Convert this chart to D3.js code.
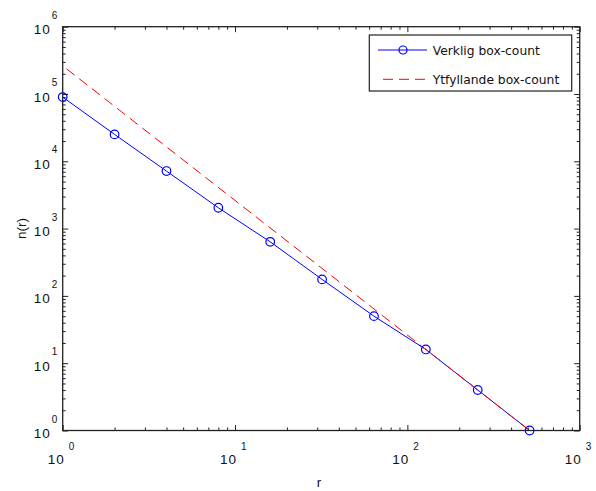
<!DOCTYPE html>
<html>
<head>
<meta charset="utf-8">
<script src="https://cdn.jsdelivr.net/npm/d3@7"></script>
<style>
  body { margin: 0; background: #fff; }
  svg { display: block; }
  text { font-family: "Liberation Sans", Arial, sans-serif; fill: #111; }
</style>
</head>
<body>
<svg id="chart" width="596" height="491"></svg>
<script>
// Box sizes r and the measured box counts n(r)
const rValues = [1, 2, 4, 8, 16, 32, 64, 128, 256, 512];
const countValues = [90000, 25100, 7160, 2040, 636, 176, 50, 16, 4, 1];

// Space-filling reference line end points (slope -2 in log-log)
const fillR = [1, 512];
const fillCount = [262144, 1];

// Decade exponents labelled on each axis
const xTickExps = [0, 1, 2, 3];
const yTickExps = [0, 1, 2, 3, 4, 5, 6];

const seriesNames = ["Verklig box-count", "Ytfyllande box-count"];
const xLabel = "r";
const yLabel = "n(r)";

const svg = d3.select("#chart");
const plot = { left: 62.7, right: 579.7, top: 26.7, bottom: 430.5 };

const x = d3.scaleLog().domain([1, 1000]).range([plot.left, plot.right]);
const y = d3.scaleLog().domain([1, 1e6]).range([plot.bottom, plot.top]);

const axisColor = "#222";
const majorLen = 5.5, minorLen = 3;

// tick positions: every 1..9 multiple of a decade, split into majors and minors
const xAll = x.ticks();
const yAll = y.ticks();
const isMajor = v => Math.abs(Math.log10(v) - Math.round(Math.log10(v))) < 1e-9;
const xMajor = xAll.filter(isMajor), xMinor = xAll.filter(v => !isMajor(v));
const yMajor = yAll.filter(isMajor), yMinor = yAll.filter(v => !isMajor(v));

function styleAxis(g) {
  g.select(".domain").remove();
  g.selectAll(".tick line").attr("stroke", axisColor).attr("stroke-width", 1);
  g.selectAll(".tick text").remove();
}

const axes = svg.append("g");
// inward ticks on all four sides
[[xMajor, majorLen], [xMinor, minorLen]].forEach(([vals, len]) => {
  axes.append("g").attr("transform", `translate(0,${plot.bottom})`)
    .call(d3.axisBottom(x).tickValues(vals).tickSize(-len).tickSizeOuter(0)).call(styleAxis);
  axes.append("g").attr("transform", `translate(0,${plot.top})`)
    .call(d3.axisTop(x).tickValues(vals).tickSize(-len).tickSizeOuter(0)).call(styleAxis);
});
[[yMajor, majorLen], [yMinor, minorLen]].forEach(([vals, len]) => {
  axes.append("g").attr("transform", `translate(${plot.left},0)`)
    .call(d3.axisLeft(y).tickValues(vals).tickSize(-len).tickSizeOuter(0)).call(styleAxis);
  axes.append("g").attr("transform", `translate(${plot.right},0)`)
    .call(d3.axisRight(y).tickValues(vals).tickSize(-len).tickSizeOuter(0)).call(styleAxis);
});

// plot frame
svg.append("rect")
  .attr("x", plot.left).attr("y", plot.top)
  .attr("width", plot.right - plot.left).attr("height", plot.bottom - plot.top)
  .attr("fill", "none").attr("stroke", axisColor).attr("stroke-width", 1.3);

// x tick labels: 10 with raised exponent
const xl = svg.append("g");
xTickExps.forEach(e => {
  const px = x(Math.pow(10, e));
  xl.append("text").attr("x", px + 2).attr("y", plot.bottom + 33)
    .attr("text-anchor", "end").attr("font-size", 13.5).attr("letter-spacing", 1).text("10");
  xl.append("text").attr("x", px + 6).attr("y", plot.bottom + 19)
    .attr("font-size", 10).text(e);
});

// y tick labels
const yl = svg.append("g");
yTickExps.forEach(e => {
  const py = y(Math.pow(10, e));
  yl.append("text").attr("x", plot.left - 12).attr("y", py + 7.5)
    .attr("text-anchor", "end").attr("font-size", 13.5).attr("letter-spacing", 1).text("10");
  yl.append("text").attr("x", plot.left - 11).attr("y", py - 8)
    .attr("font-size", 10).text(e);
});

// axis titles
svg.append("text").attr("x", 319).attr("y", 487)
  .attr("text-anchor", "middle").attr("font-size", 13.5).text(xLabel);
svg.append("text")
  .attr("transform", `translate(22,${(plot.top + plot.bottom) / 2}) rotate(-90)`)
  .attr("dy", "0.28em").attr("text-anchor", "middle").attr("font-size", 13.5).text(yLabel);

// series
const measured = rValues.map((r, i) => [r, countValues[i]]);
const filling = fillR.map((r, i) => [r, fillCount[i]]);
const line = d3.line().x(d => x(d[0])).y(d => y(d[1]));

const marks = svg.append("g");
marks.append("path").datum(measured).attr("d", line)
  .attr("fill", "none").attr("stroke", "#0000ff").attr("stroke-width", 1);
marks.append("path").datum(filling).attr("d", line)
  .attr("fill", "none").attr("stroke", "#ff0000").attr("stroke-width", 1)
  .attr("stroke-dasharray", "10,6").attr("stroke-dashoffset", 11);
marks.selectAll("circle").data(measured).join("circle")
  .attr("cx", d => x(d[0])).attr("cy", d => y(d[1])).attr("r", 4.3)
  .attr("fill", "none").attr("stroke", "#0000ff").attr("stroke-width", 1.2);

// legend
const lg = svg.append("g");
const box = { x: 369.3, y: 35, w: 202.4, h: 56 };
lg.append("rect").attr("x", box.x).attr("y", box.y).attr("width", box.w).attr("height", box.h)
  .attr("fill", "#fff").attr("stroke", axisColor).attr("stroke-width", 1.2);
const rows = [
  { name: seriesNames[0], color: "#0000ff", dash: null, marker: true, y: 50 },
  { name: seriesNames[1], color: "#ff0000", dash: "10,6", marker: false, y: 79.3 }
];
rows.forEach(row => {
  const l = lg.append("line").attr("x1", 378).attr("x2", 427).attr("y1", row.y).attr("y2", row.y)
    .attr("stroke", row.color).attr("stroke-width", 1);
  if (row.dash) l.attr("stroke-dasharray", row.dash).attr("stroke-dashoffset", 11);
  if (row.marker) lg.append("circle").attr("cx", 403).attr("cy", row.y).attr("r", 4)
    .attr("fill", "none").attr("stroke", row.color).attr("stroke-width", 1.2);
  lg.append("text").attr("x", 432.7).attr("y", row.y + 5)
    .style("font-family", "'DejaVu Sans', sans-serif").attr("font-size", 12.3).text(row.name);
});
</script>
</body>
</html>
